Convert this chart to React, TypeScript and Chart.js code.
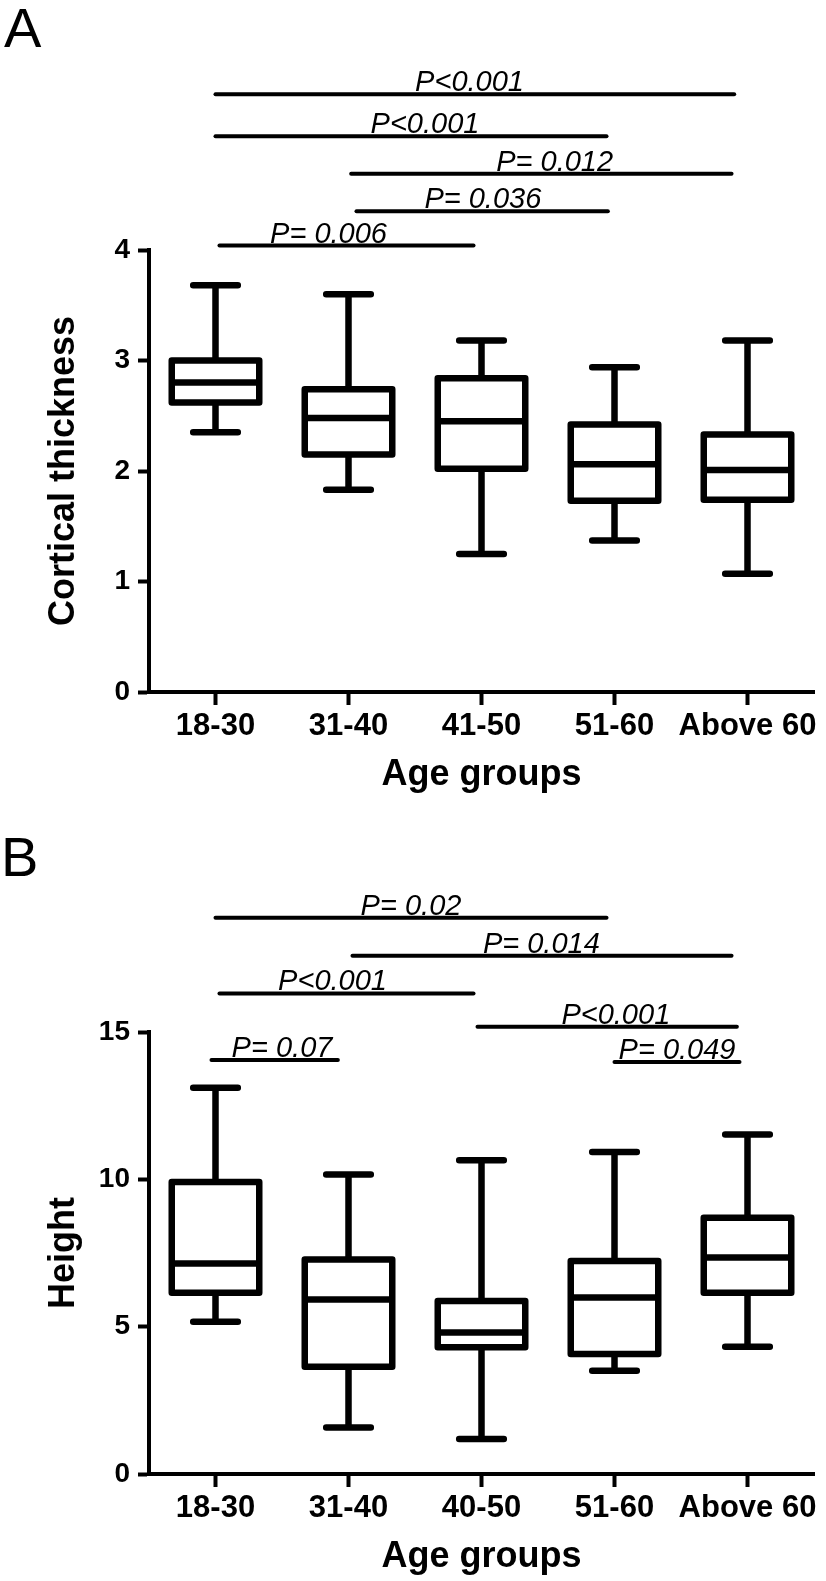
import React, { useEffect, useRef } from "react";
import { Chart, registerables } from "chart.js";

Chart.register(...registerables);

const FONT = '"Liberation Sans", Arial, Helvetica, sans-serif';

// ---------------- Panel A : Cortical thickness ----------------
const groupsA = ["18-30", "31-40", "41-50", "51-60", "Above 60"];
const minA = [2.35, 1.83, 1.25, 1.37, 1.07];
const q1A = [2.62, 2.15, 2.02, 1.73, 1.74];
const medianA = [2.8, 2.48, 2.45, 2.06, 2.01];
const q3A = [3.0, 2.74, 2.84, 2.42, 2.33];
const maxA = [3.68, 3.6, 3.18, 2.94, 3.18];
const yMaxA = 4;
const yStepA = 1;
// significance bars (category index units / value units)
const sigTextA = ["P<0.001", "P<0.001", "P= 0.012", "P= 0.036", "P= 0.006"];
const sigFromA = [0, 0, 1.02, 1.06, 0.03];
const sigToA = [3.9, 2.94, 3.88, 2.95, 1.94];
const sigLevelA = [5.41, 5.03, 4.69, 4.35, 4.04];
const sigTextAtA = [1.91, 1.575, 2.55, 2.01, 0.85];

// ---------------- Panel B : Height ----------------
const groupsB = ["18-30", "31-40", "40-50", "51-60", "Above 60"];
const minB = [5.17, 1.58, 1.19, 3.5, 4.32];
const q1B = [6.15, 3.64, 4.3, 4.07, 6.15];
const medianB = [7.14, 5.92, 4.8, 5.99, 7.35];
const q3B = [9.91, 7.28, 5.87, 7.23, 8.7];
const maxB = [13.11, 10.16, 10.65, 10.93, 11.52];
const yMaxB = 15;
const yStepB = 5;
const sigTextB = ["P= 0.02", "P= 0.014", "P<0.001", "P<0.001", "P= 0.07", "P= 0.049"];
const sigFromB = [0, 1.03, 0.03, 1.97, -0.03, 3.0];
const sigToB = [2.94, 3.88, 1.94, 3.92, 0.92, 3.94];
const sigLevelB = [18.88, 17.59, 16.31, 15.18, 14.05, 13.98];
const sigTextAtB = [1.47, 2.45, 0.88, 3.01, 0.5, 3.47];

type PanelProps = {
  top: number;
  labels: string[];
  min: number[];
  q1: number[];
  median: number[];
  q3: number[];
  max: number[];
  yMax: number;
  yStep: number;
  yTitle: string;
  sigText: string[];
  sigFrom: number[];
  sigTo: number[];
  sigLevel: number[];
  sigTextAt: number[];
};

const W = 826;
const H = 800;

function BoxPanel(p: PanelProps) {
  const ref = useRef<HTMLCanvasElement | null>(null);

  useEffect(() => {
    if (!ref.current) return;
    const LW = 6.5;

    const boxPlugin = {
      id: "boxWhisker",
      beforeDatasetsDraw(chart: any) {
        const { ctx, scales } = chart;
        const y = scales.y;
        const meta = chart.getDatasetMeta(0);
        ctx.save();
        ctx.strokeStyle = "#000";
        ctx.lineWidth = LW;
        meta.data.forEach((bar: any, i: number) => {
          const { x, width } = bar.getProps(["x", "width"], true);
          const yMaxPx = y.getPixelForValue(p.max[i]);
          const yMinPx = y.getPixelForValue(p.min[i]);
          ctx.lineCap = "butt";
          ctx.beginPath();
          ctx.moveTo(x, yMaxPx);
          ctx.lineTo(x, y.getPixelForValue(p.q3[i]));
          ctx.moveTo(x, y.getPixelForValue(p.q1[i]));
          ctx.lineTo(x, yMinPx);
          ctx.stroke();
          const half = width * 0.255;
          ctx.lineCap = "round";
          ctx.beginPath();
          ctx.moveTo(x - half, yMaxPx);
          ctx.lineTo(x + half, yMaxPx);
          ctx.moveTo(x - half, yMinPx);
          ctx.lineTo(x + half, yMinPx);
          ctx.stroke();
        });
        ctx.restore();
      },
      afterDatasetsDraw(chart: any) {
        const { ctx, scales } = chart;
        const y = scales.y;
        const meta = chart.getDatasetMeta(0);
        ctx.save();
        ctx.strokeStyle = "#000";
        ctx.lineWidth = LW;
        ctx.lineJoin = "round";
        meta.data.forEach((bar: any, i: number) => {
          const { x, y: top, base, width } = bar.getProps(["x", "y", "base", "width"], true);
          ctx.strokeRect(x - width / 2, top, width, base - top);
          const ym = y.getPixelForValue(p.median[i]);
          ctx.beginPath();
          ctx.moveTo(x - width / 2, ym);
          ctx.lineTo(x + width / 2, ym);
          ctx.stroke();
        });
        ctx.restore();
      },
      afterDraw(chart: any) {
        const { ctx, scales } = chart;
        const { x, y } = scales;
        ctx.save();
        ctx.strokeStyle = "#000";
        ctx.fillStyle = "#000";
        ctx.lineWidth = 4;
        ctx.lineCap = "round";
        ctx.font = `italic 29px ${FONT}`;
        ctx.textAlign = "center";
        ctx.textBaseline = "alphabetic";
        p.sigText.forEach((t, i) => {
          const yy = y.getPixelForValue(p.sigLevel[i]);
          ctx.beginPath();
          ctx.moveTo(x.getPixelForValue(p.sigFrom[i]), yy);
          ctx.lineTo(x.getPixelForValue(p.sigTo[i]), yy);
          ctx.stroke();
          ctx.fillText(t, x.getPixelForValue(p.sigTextAt[i]), yy - 3);
        });
        ctx.restore();
      },
    };

    const chart = new Chart(ref.current, {
      type: "bar",
      data: {
        labels: p.labels,
        datasets: [
          {
            data: p.q1.map((v, i) => [v, p.q3[i]]) as any,
            backgroundColor: "#ffffff",
            borderWidth: 0,
            categoryPercentage: 1,
            barPercentage: 0.658,
          },
        ],
      },
      options: {
        responsive: false,
        animation: false,
        devicePixelRatio: 1,
        layout: { padding: { top: 250, left: 0, right: 12, bottom: 0 } },
        plugins: { legend: { display: false }, tooltip: { enabled: false } },
        scales: {
          x: {
            type: "category",
            offset: true,
            afterFit: (s: any) => {
              s.height = 108;
            },
            ticks: {
              color: "#000",
              font: { family: FONT, size: 31, weight: "bold" },
              padding: 3,
              maxRotation: 0,
              minRotation: 0,
              autoSkip: false,
            },
            grid: {
              offset: false,
              drawOnChartArea: false,
              drawTicks: true,
              tickLength: 13,
              tickWidth: 4,
              tickColor: "#000",
              color: "#000",
            },
            border: { display: true, color: "#000", width: 4 },
            title: {
              display: true,
              text: "Age groups",
              color: "#000",
              font: { family: FONT, size: 36, weight: "bold" },
              padding: { top: 0, bottom: 3 },
            },
          },
          y: {
            min: 0,
            max: p.yMax,
            afterFit: (s: any) => {
              s.width = 149;
            },
            ticks: {
              stepSize: p.yStep,
              color: "#000",
              font: { family: FONT, size: 28, weight: "bold" },
              padding: 8,
            },
            grid: {
              drawOnChartArea: false,
              drawTicks: true,
              tickLength: 11,
              tickWidth: 4,
              tickColor: "#000",
              color: "#000",
            },
            border: { display: true, color: "#000", width: 4 },
            title: {
              display: true,
              text: p.yTitle,
              color: "#000",
              font: { family: FONT, size: 36, weight: "bold" },
              padding: { top: 42, bottom: 0 },
            },
          },
        },
      } as any,
      plugins: [boxPlugin as any],
    });
    return () => chart.destroy();
  }, []);

  return (
    <canvas
      ref={ref}
      width={W}
      height={H}
      style={{ position: "absolute", left: 0, top: p.top, width: W, height: H, display: "block" }}
    />
  );
}

export default function App() {
  const letter: React.CSSProperties = {
    position: "absolute",
    fontFamily: FONT,
    fontSize: 56,
    lineHeight: "56px",
    color: "#000",
    margin: 0,
  };
  return (
    <div
      style={{
        position: "absolute",
        left: 0,
        top: 0,
        width: 826,
        height: 1581,
        overflow: "hidden",
        background: "#fff",
      }}
    >
      <BoxPanel
        top={0}
        labels={groupsA}
        min={minA}
        q1={q1A}
        median={medianA}
        q3={q3A}
        max={maxA}
        yMax={yMaxA}
        yStep={yStepA}
        yTitle="Cortical thickness"
        sigText={sigTextA}
        sigFrom={sigFromA}
        sigTo={sigToA}
        sigLevel={sigLevelA}
        sigTextAt={sigTextAtA}
      />
      <BoxPanel
        top={782}
        labels={groupsB}
        min={minB}
        q1={q1B}
        median={medianB}
        q3={q3B}
        max={maxB}
        yMax={yMaxB}
        yStep={yStepB}
        yTitle="Height"
        sigText={sigTextB}
        sigFrom={sigFromB}
        sigTo={sigToB}
        sigLevel={sigLevelB}
        sigTextAt={sigTextAtB}
      />
      <div style={{ ...letter, left: 4, top: 0 }}>A</div>
      <div style={{ ...letter, left: 1, top: 829 }}>B</div>
    </div>
  );
}
